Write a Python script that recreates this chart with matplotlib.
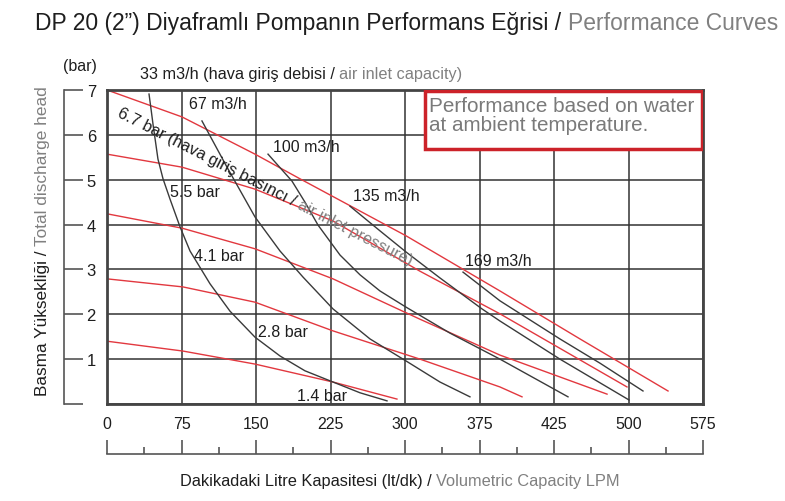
import numpy as np
import matplotlib.pyplot as plt
from matplotlib.transforms import IdentityTransform
from matplotlib.patches import Rectangle

plt.rcParams['font.family'] = ['Liberation Sans', 'DejaVu Sans']

W, H = 785, 502
DARK = '#1e1e1e'
GRAY = '#808080'
RED = '#e2383f'
CURVE = '#3a3a3a'

# x runs in chart units: one grid step = 75 (the printed labels are not evenly spaced)
x_labels = ['0', '75', '150', '225', '300', '375', '425', '500', '575']
y_labels = ['', '1', '2', '3', '4', '5', '6', '7']

# air inlet pressure curves (red)
p67_x = [0, 75.5, 149.0, 194.3, 301.0, 395.6, 476.2, 564.8]
p67_y = [7.0, 6.40, 5.57, 5.02, 3.75, 2.52, 1.45, 0.29]
p55_x = [0, 75.5, 149.0, 227.5, 315.1, 395.6, 523.5]
p55_y = [5.57, 5.28, 4.79, 4.08, 2.96, 2.01, 0.38]
p41_x = [0, 75.5, 149.0, 227.5, 315.1, 395.6, 503.4]
p41_y = [4.24, 3.92, 3.46, 2.79, 1.89, 1.09, 0.22]
p28_x = [0, 76.5, 149.0, 227.5, 315.1, 395.6, 417.8]
p28_y = [2.79, 2.61, 2.27, 1.63, 1.00, 0.38, 0.16]
p14_x = [0, 76.5, 149.0, 227.5, 291.9]
p14_y = [1.40, 1.18, 0.89, 0.49, 0.11]

# air consumption curves (black)
q33_x = [42.3, 44.3, 46.3, 51.3, 56.4, 63.4, 73.5, 83.6, 103.7, 123.8, 149.0, 174.2,
         199.3, 227.5, 254.7, 281.9]
q33_y = [6.91, 6.58, 6.24, 5.46, 5.02, 4.57, 3.95, 3.41, 2.68, 2.07, 1.49, 1.07,
         0.74, 0.49, 0.25, 0.07]
q67_x = [95.6, 120.8, 149.0, 174.2, 197.3, 227.5, 264.8, 301.0, 335.2, 365.4]
q67_y = [6.31, 5.28, 4.17, 3.41, 2.83, 2.12, 1.45, 0.96, 0.49, 0.16]
q100_x = [162.1, 186.2, 199.3, 212.4, 234.6, 254.7, 274.8, 301.0, 345.3, 395.6, 464.1]
q100_y = [5.57, 4.97, 4.50, 3.99, 3.32, 2.88, 2.52, 2.16, 1.58, 1.00, 0.16]
q135_x = [244.6, 274.8, 301.0, 335.2, 377.5, 395.6, 456.0, 525.5]
q135_y = [4.41, 3.86, 3.39, 2.81, 2.12, 1.85, 1.00, 0.09]
q169_x = [358.4, 395.6, 456.0, 496.3, 539.6]
q169_y = [2.94, 2.30, 1.45, 0.91, 0.29]

red_curves = [(p67_x, p67_y), (p55_x, p55_y), (p41_x, p41_y), (p28_x, p28_y), (p14_x, p14_y)]
black_curves = [(q33_x, q33_y), (q67_x, q67_y), (q100_x, q100_y), (q135_x, q135_y), (q169_x, q169_y)]

curve_labels = ['67 m3/h', '100 m3/h', '135 m3/h', '169 m3/h',
                '5.5 bar', '4.1 bar', '2.8 bar', '1.4 bar']
label_pos = [(111.7, 6.69), (200.3, 5.73), (280.9, 4.64), (393.6, 3.19),
             (88.6, 4.73), (112.8, 3.30), (177.2, 1.61), (216.4, 0.18)]


def text_width(fig, r, s, size):
    a = fig.text(0, 0, s + '|', fontsize=size)
    b = fig.text(0, 0, '|', fontsize=size)
    w = a.get_window_extent(r).width - b.get_window_extent(r).width
    a.remove()
    b.remove()
    return w


def pieces(fig, x, y, parts, size, rot=0.0, center=False):
    # x, y: pixels from top-left, baseline start (or baseline middle if center)
    r = fig.canvas.get_renderer()
    widths = [text_width(fig, r, s, size) for s, c in parts]
    ang = np.radians(rot)
    off = -sum(widths) / 2 if center else 0.0
    for (s, c), w in zip(parts, widths):
        fig.text(x + off * np.cos(ang), H - y + off * np.sin(ang), s, color=c,
                 fontsize=size, rotation=rot, rotation_mode='anchor',
                 ha='left', va='baseline', transform=IdentityTransform())
        off += w


fig = plt.figure(figsize=(W / 100, H / 100), dpi=100)
ax = fig.add_axes([107 / W, 1 - 405 / H, 596 / W, 314 / H])
ax.set_xlim(0, 600)
ax.set_ylim(0, 7)
ax.set_xticks(np.arange(0, 601, 75))
ax.set_xticklabels(x_labels)
ax.set_yticks(range(8))
ax.set_yticklabels(y_labels)
ax.tick_params(axis='x', length=0, labelsize=11.5, pad=9, colors=DARK)
ax.tick_params(axis='y', length=0, labelsize=12, pad=8, colors=DARK)
ax.grid(True, color='#333333', lw=1.1)
ax.set_axisbelow(True)
for s in ax.spines.values():
    s.set_linewidth(2)
    s.set_color('#444444')

for xs, ys in red_curves:
    ax.plot(xs, ys, color=RED, lw=1.0, zorder=2)
for xs, ys in black_curves:
    ax.plot(xs, ys, color=CURVE, lw=1.0, zorder=2)

for lab, (lx, ly) in zip(curve_labels, label_pos):
    ax.text(lx, ly, lab, fontsize=11.5, color=DARK, ha='center', va='center', zorder=4)

# note box
ax.add_patch(Rectangle((0.5336, 0.812), 0.4644, 0.185, transform=ax.transAxes,
                       facecolor='white', edgecolor='#cc2229', lw=2.5, zorder=3))
ax.text(0.541, 0.982, 'Performance based on water\nat ambient temperature.',
        transform=ax.transAxes, fontsize=14.9, color='#7a7a7a', ha='left', va='top',
        linespacing=1.02, zorder=4)

# left ruler
axl = fig.add_axes([64 / W, 1 - 405 / H, 19 / W, 314 / H])
axl.set_ylim(0, 7)
axl.set_xlim(0, 1)
axl.patch.set_visible(False)
for k in ['top', 'right', 'bottom']:
    axl.spines[k].set_visible(False)
axl.spines['left'].set_color('#555555')
axl.spines['left'].set_linewidth(1.2)
axl.set_xticks([])
axl.set_yticks(range(8))
axl.tick_params(axis='y', direction='in', length=19 * 0.72, width=1.2,
                color='#555555', labelleft=False)

# bottom ruler
axb = fig.add_axes([107 / W, 1 - 455 / H, 596 / W, 14 / H])
axb.set_xlim(0, 600)
axb.set_ylim(0, 1)
axb.patch.set_visible(False)
for k in ['top', 'right', 'left']:
    axb.spines[k].set_visible(False)
axb.spines['bottom'].set_color('#555555')
axb.spines['bottom'].set_linewidth(1.2)
axb.set_yticks([])
axb.set_xticks(np.arange(0, 601, 75))
axb.set_xticks(np.arange(37.5, 600, 75), minor=True)
axb.tick_params(axis='x', which='major', direction='in', length=14 * 0.72, width=1.2,
                color='#555555', labelbottom=False)
axb.tick_params(axis='x', which='minor', direction='in', length=7 * 0.72, width=1.2,
                color='#555555', labelbottom=False)

# texts around the chart
pieces(fig, 35, 30, [('DP 20 (2\u201d) Diyaframl\u0131 Pompan\u0131n Performans E\u011frisi / ', DARK),
                     ('Performance Curves', GRAY)], 16.5)
pieces(fig, 140, 79, [('33 m3/h (hava giri\u015f debisi / ', DARK),
                      ('air inlet capacity)', GRAY)], 11.7)
fig.text(80 / W, 1 - 67 / H, '(bar)', fontsize=11.5, color=DARK, ha='center', va='center')
pieces(fig, 47, 241, [('Basma Y\u00fckseklii\u011fi / '.replace('lii', 'li'), DARK),
                      ('Total discharge head', GRAY)], 12.4, rot=90, center=True)
pieces(fig, 400, 486, [('Dakikadaki Litre Kapasitesi (lt/dk) / ', DARK),
                       ('Volumetric Capacity LPM', GRAY)], 11.8, center=True)
pieces(fig, 116, 116, [('6.7 bar (hava giri\u015f bas\u0131nc\u0131 / ', DARK),
                       ('air inlet pressure)', GRAY)], 11.8, rot=-27)

fig.savefig('out.png', dpi=100)
